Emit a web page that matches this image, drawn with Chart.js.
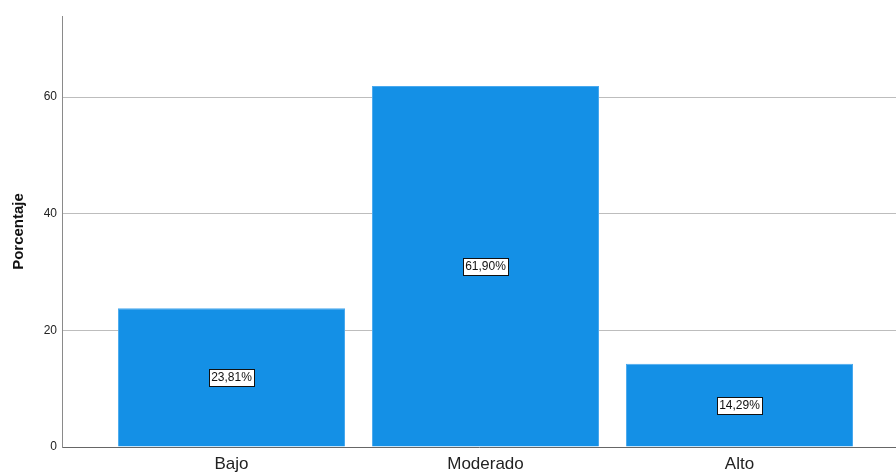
<!DOCTYPE html>
<html lang="es">
<head>
  <meta charset="UTF-8">
  <title>Porcentaje por nivel</title>
  <style>
    body {
      margin: 0;
      background: #ffffff;
    }
    #wrap {
      width: 896px;
      height: 472px;
    }
  </style>
  <script src="https://cdn.jsdelivr.net/npm/chart.js"></script>
</head>
<body>
  <div id="wrap"><canvas id="chart" width="896" height="472"></canvas></div>

  <script>
    // Data
    const categories = ['Bajo', 'Moderado', 'Alto'];
    const percentages = [23.81, 61.90, 14.29];
    const pctLabels = ['23,81%', '61,90%', '14,29%'];
    const yTicks = [0, 20, 40, 60];

    const FONT = "'Liberation Sans', Arial, sans-serif";

    // white boxed labels in the middle of each bar
    const boxLabels = {
      id: 'boxLabels',
      afterDatasetsDraw(chart) {
        const ctx = chart.ctx;
        const meta = chart.getDatasetMeta(0);
        ctx.save();
        ctx.font = '12px ' + FONT;
        ctx.textAlign = 'center';
        ctx.textBaseline = 'middle';
        meta.data.forEach((bar, i) => {
          const text = pctLabels[i];
          const cx = Math.round(bar.x);
          const cy = Math.round((bar.y + bar.base) / 2);
          const w = Math.ceil(ctx.measureText(text).width) + 4;
          const h = 17;
          const x0 = Math.round(cx - w / 2) + 0.5;
          const y0 = Math.round(cy - h / 2) + 0.5;
          ctx.fillStyle = '#ffffff';
          ctx.fillRect(x0, y0, w, h);
          ctx.strokeStyle = '#111111';
          ctx.lineWidth = 1;
          ctx.strokeRect(x0, y0, w, h);
          ctx.fillStyle = '#111111';
          ctx.fillText(text, cx + 0.5, cy + 1);
        });
        ctx.restore();
      }
    };

    const ctx = document.getElementById('chart').getContext('2d');
    const chart = new Chart(ctx, {
      type: 'bar',
      data: {
        datasets: [{
          data: percentages.map((v, i) => ({ x: i, y: v })),
          backgroundColor: '#1490e6',
          borderColor: '#49a9ee',
          borderWidth: 1,
          categoryPercentage: 1,
          barPercentage: 0.894
        }]
      },
      options: {
        responsive: false,
        animation: false,
        layout: { padding: { top: 16, right: 0, bottom: 0, left: 0 } },
        plugins: {
          legend: { display: false },
          tooltip: { enabled: false }
        },
        scales: {
          x: {
            type: 'linear',
            offset: false,
            min: -0.6673,
            max: 2.6162,
            grid: { display: false, drawTicks: false, offset: false },
            border: { display: true, color: '#666666', width: 1 },
            afterFit: (scale) => { scale.height = 25; },
            afterBuildTicks: (scale) => {
              scale.ticks = categories.map((c, i) => ({ value: i }));
            },
            ticks: {
              padding: 7,
              color: '#222222',
              font: { family: FONT, size: 17 },
              callback: (v) => categories[v] ?? ''
            }
          },
          y: {
            min: 0,
            max: 73.9,
            afterFit: (scale) => { scale.width = 62; },
            afterBuildTicks: (scale) => {
              scale.ticks = yTicks.map((v) => ({ value: v }));
            },
            grid: {
              drawTicks: false,
              color: (c) => (c.tick && c.tick.value === 0) ? 'rgba(0,0,0,0)' : '#bdbdbd',
              lineWidth: 1
            },
            border: { display: true, color: '#8a8a8a', width: 1 },
            ticks: {
              padding: 5,
              color: '#222222',
              font: { family: FONT, size: 12 }
            },
            title: {
              display: true,
              text: 'Porcentaje',
              color: '#111111',
              padding: { top: 10, bottom: 0 },
              font: { family: FONT, size: 15, weight: 'bold' }
            }
          }
        }
      },
      plugins: [boxLabels]
    });
  </script>
</body>
</html>
